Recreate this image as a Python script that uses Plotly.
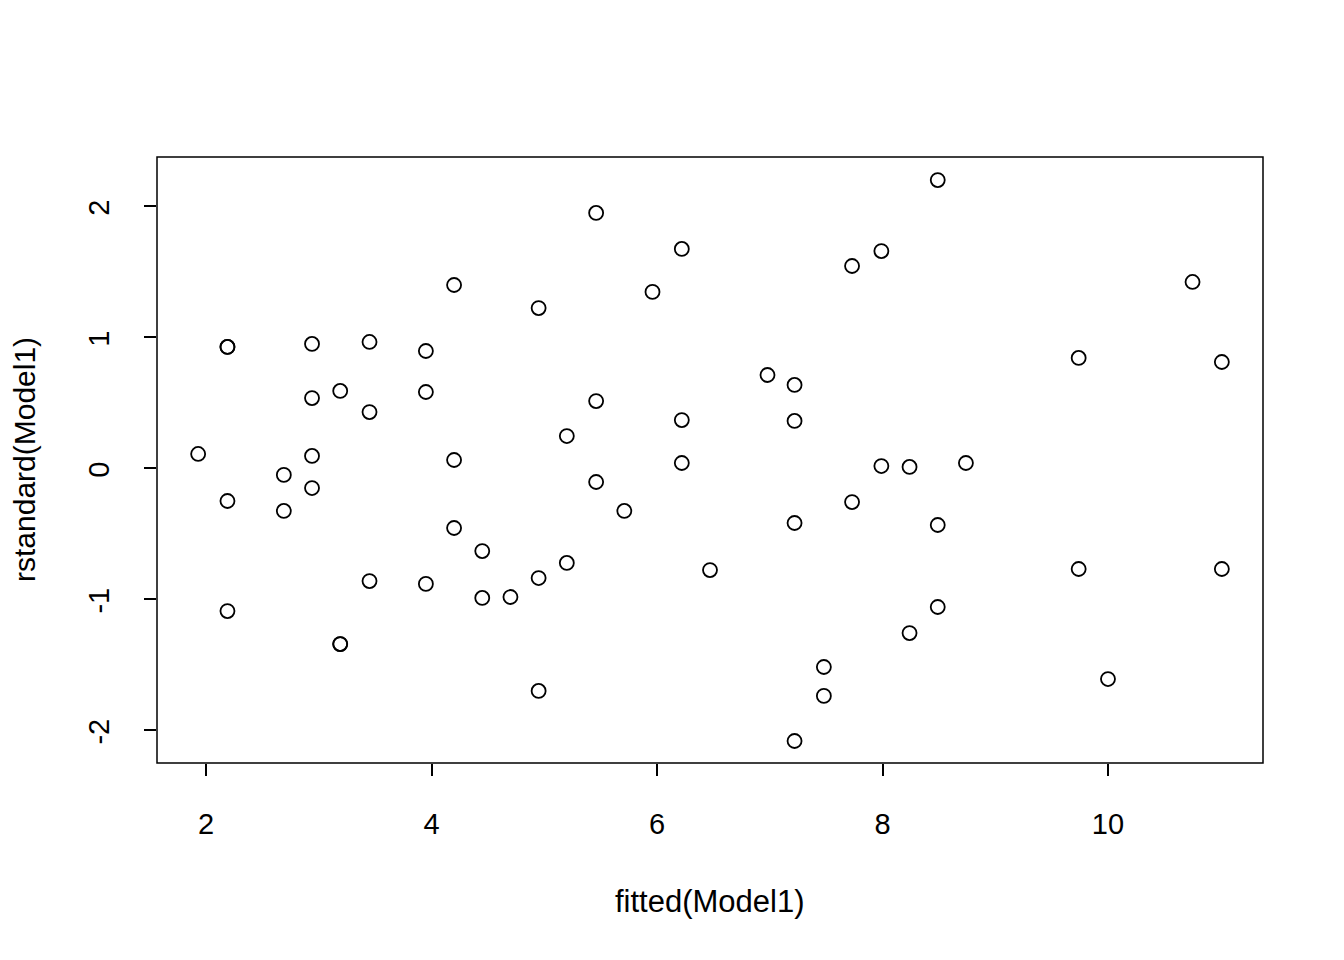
import plotly.graph_objects as go

# fitted values and standardized residuals
fitted_vals = [
    1.93, 2.19, 2.19, 2.19, 2.19, 2.69, 2.69, 2.94, 2.94, 2.94, 2.94,
    3.19, 3.19, 3.19, 3.45, 3.45, 3.45, 3.95, 3.95, 3.95, 4.20, 4.20, 4.20,
    4.45, 4.45, 4.70, 4.95, 4.95, 4.95, 5.20, 5.20, 5.46, 5.46, 5.46, 5.71,
    5.96, 6.22, 6.22, 6.22, 6.47, 6.98, 7.22, 7.22, 7.22, 7.22, 7.48, 7.48,
    7.73, 7.73, 7.99, 7.99, 8.24, 8.24, 8.49, 8.49, 8.49, 8.74, 9.74, 9.74,
    10.00, 10.75, 11.01, 11.01,
]
std_resid = [
    0.107, 0.924, 0.924, -0.252, -1.092, -0.053, -0.328, 0.947, 0.534, 0.092, -0.153,
    0.588, -1.344, -1.344, 0.962, 0.427, -0.863, 0.893, 0.580, -0.885, 1.397, 0.061, -0.458,
    -0.634, -0.992, -0.985, 1.221, -0.840, -1.702, 0.244, -0.725, 1.947, 0.511, -0.107, -0.328,
    1.344, 1.672, 0.366, 0.038, -0.779, 0.710, 0.634, 0.359, -0.420, -2.084, -1.519, -1.740,
    1.542, -0.260, 1.656, 0.015, 0.008, -1.260, 2.198, -0.435, -1.061, 0.038, 0.840, -0.771,
    -1.611, 1.420, 0.809, -0.771,
]
x_ticks = [2, 4, 6, 8, 10]
y_ticks = [-2, -1, 0, 1, 2]
y_tick_text = ["-2", "-1", "0", "1", "2"]

FONT = "Liberation Sans, Arial, Helvetica, sans-serif"

fig = go.Figure(go.Scatter(
    x=fitted_vals, y=std_resid, mode="markers",
    marker={"symbol": "circle-open", "size": 14, "color": "black",
            "line": {"width": 1.8, "color": "black"}},
    showlegend=False,
))

# page body has an 8px margin, so the plot box is shifted back by 8px
fig.update_layout(
    width=1344, height=960,
    paper_bgcolor="white", plot_bgcolor="white",
    margin={"l": 149, "r": 89, "t": 149, "b": 205},
    font={"family": FONT, "size": 29, "color": "black"},
    shapes=[{
        "type": "rect", "xref": "paper", "yref": "paper",
        "x0": 0, "x1": 1, "y0": 0, "y1": 1,
        "line": {"color": "black", "width": 1.5},
    }],
    annotations=[
        {"text": "fitted(Model1)", "xref": "paper", "yref": "paper",
         "x": 0.5, "y": -(901 - 763) / 606, "showarrow": False,
         "yanchor": "middle", "font": {"size": 31}},
        {"text": "rstandard(Model1)", "xref": "paper", "yref": "paper",
         "x": -(157 - 24) / 1106, "y": 0.5, "showarrow": False,
         "xanchor": "center", "textangle": -90, "font": {"size": 30}},
    ],
)
fig.update_xaxes(
    range=[1.565, 11.375], tickvals=x_ticks, showgrid=False, zeroline=False,
    ticks="outside", ticklen=12, tickwidth=1.5, tickcolor="black",
    showline=False, ticklabelstandoff=23,
)
fig.update_yaxes(
    range=[-2.252, 2.374], tickmode="array", tickvals=y_ticks, ticktext=y_tick_text,
    showgrid=False, zeroline=False,
    ticks="outside", ticklen=12, tickwidth=1.5, tickcolor="black",
    showline=False, tickangle=-90, ticklabelstandoff=23, ticklabelshift=6,
)

fig.write_html("out.html")
